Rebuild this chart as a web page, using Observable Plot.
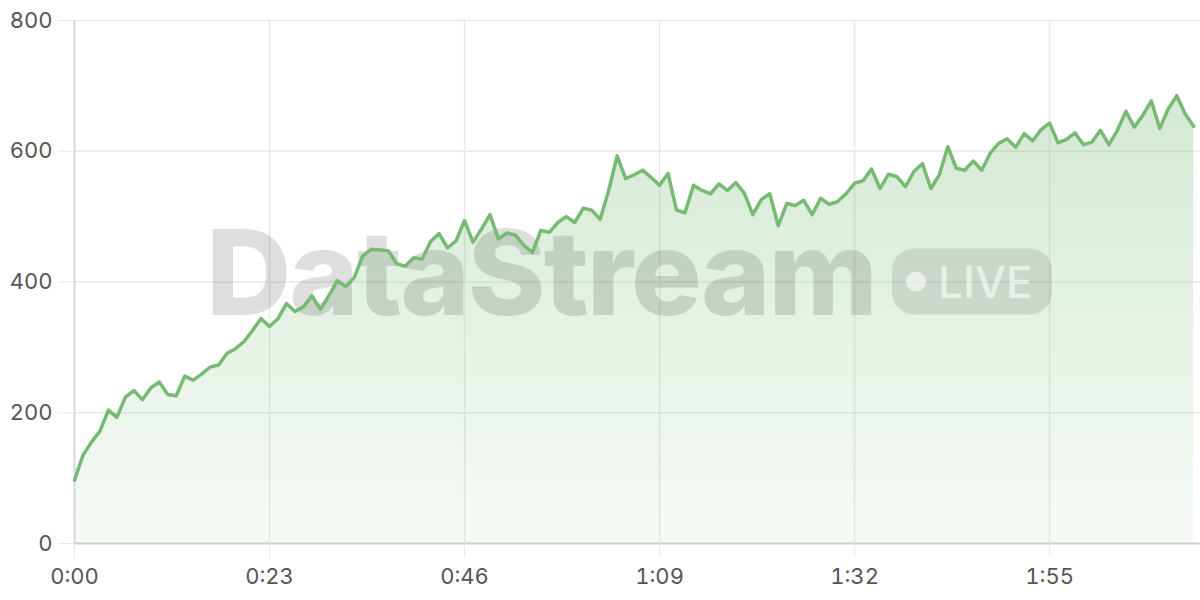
<!DOCTYPE html>
<html>
<head>
<meta charset="utf-8">
<script src="https://cdn.jsdelivr.net/npm/d3@7"></script>
<script src="https://cdn.jsdelivr.net/npm/@observablehq/plot@0.6"></script>
<style>
  html, body { margin: 0; padding: 0; background: #fff; }
  #chart { width: 1200px; height: 600px; }
  svg { font-family: Inter, "Noto Sans", sans-serif; }
</style>
</head>
<body>
<div id="chart"></div>
<script>
// Seconds since start (one sample per second)
const seconds = d3.range(0, 133);
// Measured values
const values = [
  97, 135, 155, 172, 204, 193, 224, 234, 220, 238,
  247, 228, 226, 256, 250, 259, 270, 273, 291, 298,
  309, 326, 344, 332, 344, 367, 355, 362, 379, 358,
  379, 402, 393, 407, 440, 450, 449, 448, 428, 424,
  437, 435, 462, 474, 452, 463, 494, 461, 481, 503,
  466, 475, 472, 456, 445, 479, 476, 491, 500, 491,
  513, 510, 496, 540, 593, 558, 564, 571, 560, 548,
  566, 510, 506, 548, 540, 535, 550, 540, 552, 536,
  503, 526, 535, 486, 520, 517, 525, 503, 528, 519,
  523, 535, 551, 555, 573, 543, 565, 561, 546, 569,
  581, 543, 564, 607, 574, 571, 585, 571, 597, 612,
  619, 606, 627, 616, 633, 643, 613, 618, 628, 610,
  614, 632, 610, 632, 661, 637, 655, 677, 635, 665,
  685, 657, 638
];
const xTicks = [0, 23, 46, 69, 92, 115];
const yTicks = [0, 200, 400, 600, 800];
const watermarkTitle = "DataStream";
const watermarkBadge = "LIVE";

const data = seconds.map((t, i) => ({t, v: values[i]}));
const fmt = t => `${Math.floor(t / 60)}:${String(t % 60).padStart(2, "0")}`;

const lineColor = "#76ba74";

function gradientDefs() {
  const svg = d3.create("svg:defs");
  const g = svg.append("linearGradient")
    .attr("id", "areaGrad").attr("x1", 0).attr("x2", 0).attr("y1", 0).attr("y2", 1);
  g.append("stop").attr("offset", "0%").attr("stop-color", lineColor).attr("stop-opacity", 0.32);
  g.append("stop").attr("offset", "100%").attr("stop-color", lineColor).attr("stop-opacity", 0.06);
  return svg.node();
}

function watermark(index, scales, values, dim) {
  const cx = (dim.marginLeft + dim.width - dim.marginRight) / 2 - 5;
  const cy = (dim.marginTop + dim.height - dim.marginBottom) / 2;
  const g = d3.create("svg:g").attr("pointer-events", "none");
  g.append("text")
    .attr("x", cx - 91).attr("y", cy + 33)
    .attr("text-anchor", "middle")
    .attr("font-family", "Inter, sans-serif")
    .attr("font-weight", 800)
    .attr("font-size", 118)
    .attr("letter-spacing", "-2")
    .attr("fill", "rgba(0,0,0,0.13)")
    .text(watermarkTitle);
  const px = cx + 260, pw = 160, ph = 66;
  g.append("rect")
    .attr("x", px).attr("y", cy - ph / 2).attr("width", pw).attr("height", ph)
    .attr("rx", 22).attr("fill", "rgba(0,0,0,0.10)");
  g.append("circle")
    .attr("cx", px + 24).attr("cy", cy).attr("r", 10)
    .attr("fill", "rgba(255,255,255,0.6)");
  g.append("text")
    .attr("x", px + 46).attr("y", cy + 16)
    .attr("text-anchor", "start")
    .attr("font-family", "Inter, sans-serif")
    .attr("font-weight", 500)
    .attr("font-size", 44)
    .attr("fill", "rgba(255,255,255,0.6)")
    .text(watermarkBadge);
  return g.node();
}

const chart = Plot.plot({
  width: 1200,
  height: 600,
  marginLeft: 74,
  marginRight: 0,
  marginTop: 20,
  marginBottom: 57,
  style: {fontSize: "22px", fontFamily: "Inter, sans-serif", color: "#555", background: "#fff"},
  x: {domain: [0, 132.8], label: null},
  y: {domain: [0, 800], label: null},
  marks: [
    gradientDefs,
    Plot.gridY(yTicks, {stroke: "#e8e8e8", strokeOpacity: 1, strokeWidth: 1.5}),
    Plot.gridX(xTicks, {stroke: "#e8e8e8", strokeOpacity: 1, strokeWidth: 1.5}),
    Plot.areaY(data, {x: "t", y: "v", fill: "url(#areaGrad)"}),
    watermark,
    Plot.ruleX([0], {stroke: "#d4d4d4", strokeWidth: 1.5}),
    Plot.ruleY([0], {stroke: "#cfcfcf", strokeWidth: 2}),
    Plot.axisY(yTicks, {tickSize: 16, tickPadding: 6, stroke: "#e8e8e8", fill: "#555", fontSize: 22, label: null}),
    Plot.axisX(xTicks, {tickSize: 14, tickPadding: 11, stroke: "#e8e8e8", fill: "#555", fontSize: 22, tickFormat: fmt, label: null}),
    Plot.lineY(data, {x: "t", y: "v", stroke: lineColor, strokeWidth: 3.5, strokeLinejoin: "round", strokeLinecap: "round"})
  ]
});
document.getElementById("chart").append(chart);
</script>
</body>
</html>
